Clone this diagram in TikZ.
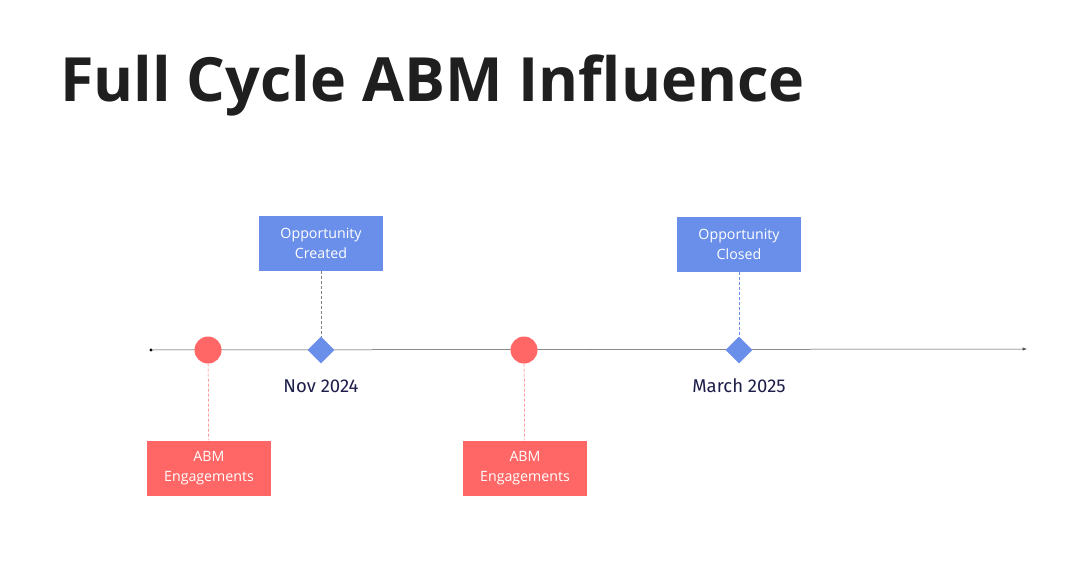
\documentclass[tikz,border=0pt]{standalone}
\usepackage{fontspec}
\setmainfont{Open Sans}
\newfontfamily\datefont{Fira Sans}
\usetikzlibrary{shapes.geometric}
\definecolor{abmred}{HTML}{FF6666}
\definecolor{oppblue}{HTML}{6A8FEA}
\definecolor{datenavy}{HTML}{1E1E4A}
\tikzset{
  box/.style={draw=none, rectangle, minimum width=124pt, minimum height=55pt, text=white, align=center, font=\fontsize{14.2}{20}\selectfont},
  engage/.style={circle, fill=abmred, minimum size=27pt, inner sep=0pt},
  milestone/.style={diamond, fill=oppblue, minimum size=27pt, inner sep=0pt},
  link/.style={densely dashed, line width=0.5pt},
  datelabel/.style={text=datenavy, font=\datefont\fontsize{18.5}{20}\selectfont}
}
\begin{document}
\begin{tikzpicture}[x=1pt, y=-1pt]
  \useasboundingbox[fill=white] (0,0) rectangle (1078,572);
  \node[anchor=west, inner sep=0pt, font=\bfseries\fontsize{61}{66}\selectfont, text=black!88] (title) at (60,85) {Full Cycle ABM Influence};

  % timeline
  \coordinate (start) at (151,350);
  \coordinate (end) at (1027,349);
  \fill (start) circle (1.6pt);
  \draw[-latex, line width=0.5pt, black!70] (start) -- (end);

  % markers
  \node[engage] (eng1) at (208,350) {};
  \node[milestone] (opp1) at (321,350) {};
  \node[engage] (eng2) at (524,350) {};
  \node[milestone] (opp2) at (739,350) {};

  % boxes
  \node[box, fill=oppblue] (created) at (321,243.5) {Opportunity\\Created};
  \node[box, fill=oppblue] (closed) at (739,244.5) {Opportunity\\Closed};
  \node[box, fill=abmred] (abm1) at (209,468) {ABM\\Engagements};
  \node[box, fill=abmred] (abm2) at (525,468) {ABM\\Engagements};

  \draw[link, black!50] (created) -- (opp1);
  \draw[link, oppblue] (closed) -- (opp2);
  \draw[link, abmred] (eng1) -- (abm1);
  \draw[link, abmred] (eng2) -- (abm2);

  % dates
  \node[datelabel] (nov) at (321,386) {Nov 2024};
  \node[datelabel] (mar) at (739,386) {March 2025};
\end{tikzpicture}
\end{document}
